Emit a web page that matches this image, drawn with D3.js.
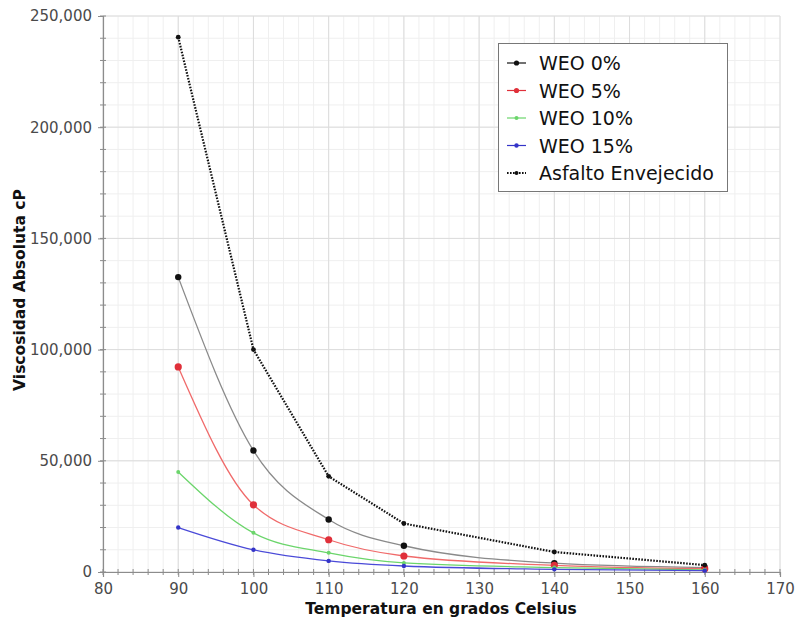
<!DOCTYPE html>
<html>
<head>
<meta charset="utf-8">
<script src="https://cdn.jsdelivr.net/npm/d3@7/dist/d3.min.js"></script>
<style>
  html, body { margin: 0; padding: 0; background: #fff; }
  svg { display: block; }
</style>
</head>
<body>
<svg id="chart" width="795" height="624"></svg>
<script>
// Temperatures (°C) at which viscosity was measured
const temperatures = [90, 100, 110, 120, 140, 160];

// Absolute viscosity (cP) per blend
const weo0  = [132600, 54600, 23600, 11800, 4000, 2000];
const weo5  = [92200, 30200, 14500, 7200, 3000, 1500];
const weo10 = [45000, 17600, 8600, 4100, 2000, 1000];
const weo15 = [20000, 10000, 5000, 2700, 1200, 600];
const aged  = [240500, 100000, 43000, 21800, 9000, 3100];

const seriesNames = ["WEO 0%", "WEO 5%", "WEO 10%", "WEO 15%", "Asfalto Envejecido"];

const xTicks = [80, 90, 100, 110, 120, 130, 140, 150, 160, 170];
const yTicks = [0, 50000, 100000, 150000, 200000, 250000];

const series = [
  { name: seriesNames[0], values: weo0,  line: "#8a8a8a", marker: "#111", r: 3.2, dotted: false },
  { name: seriesNames[1], values: weo5,  line: "#f06a6a", marker: "#e0303a", r: 3.6, dotted: false },
  { name: seriesNames[2], values: weo10, line: "#6bd56b", marker: "#6bd56b", r: 2.0, dotted: false },
  { name: seriesNames[3], values: weo15, line: "#4a4ad8", marker: "#3434c8", r: 2.2, dotted: false },
  { name: seriesNames[4], values: aged,  line: "#111",    marker: "#111", r: 2.4, dotted: true }
];

const svg = d3.select("#chart");
const plotL = 103, plotR = 780, plotT = 16, plotB = 572;

const x = d3.scaleLinear().domain([80, 170]).range([plotL, plotR]);
const y = d3.scaleLinear().domain([0, 250000]).range([plotB, plotT]);

const fontFam = "Tahoma, 'DejaVu Sans', Verdana, sans-serif";

// grid: minor then major
const grid = svg.append("g");
const xMinor = d3.range(80, 170.01, 2);
const yMinor = d3.range(0, 250001, 10000);
grid.selectAll(".vx").data(xMinor).join("line")
  .attr("x1", d => x(d)).attr("x2", d => x(d))
  .attr("y1", plotT).attr("y2", plotB)
  .attr("stroke", "#efefef").attr("stroke-width", 1);
grid.selectAll(".hy").data(yMinor).join("line")
  .attr("x1", plotL).attr("x2", plotR)
  .attr("y1", d => y(d)).attr("y2", d => y(d))
  .attr("stroke", "#efefef").attr("stroke-width", 1);
grid.selectAll(".vX").data(xTicks).join("line")
  .attr("x1", d => x(d)).attr("x2", d => x(d))
  .attr("y1", plotT).attr("y2", plotB)
  .attr("stroke", "#dcdcdc").attr("stroke-width", 1);
grid.selectAll(".hY").data(yTicks).join("line")
  .attr("x1", plotL).attr("x2", plotR)
  .attr("y1", d => y(d)).attr("y2", d => y(d))
  .attr("stroke", "#dcdcdc").attr("stroke-width", 1);

// axes
const fmt = d => d3.format(",")(d);
const xAxis = svg.append("g").attr("transform", `translate(0,${plotB})`)
  .call(d3.axisBottom(x).tickValues(xTicks).tickSize(5).tickPadding(6));
const yAxis = svg.append("g").attr("transform", `translate(${plotL},0)`)
  .call(d3.axisLeft(y).tickValues(yTicks).tickFormat(fmt).tickSize(5).tickPadding(6));
[xAxis, yAxis].forEach(g => {
  g.select(".domain").attr("stroke", "#8c8c8c").attr("stroke-width", 1.2);
  g.selectAll(".tick line").attr("stroke", "#8c8c8c");
  g.selectAll(".tick text").attr("fill", "#4a4a4a")
    .style("font-family", fontFam).style("font-size", "15px");
});
// minor ticks
svg.append("g").selectAll("line").data(xMinor).join("line")
  .attr("x1", d => x(d)).attr("x2", d => x(d))
  .attr("y1", plotB - 3).attr("y2", plotB + 3)
  .attr("stroke", "#8c8c8c");
svg.append("g").selectAll("line").data(yMinor).join("line")
  .attr("x1", plotL - 3).attr("x2", plotL + 3)
  .attr("y1", d => y(d)).attr("y2", d => y(d))
  .attr("stroke", "#8c8c8c");

// axis titles
svg.append("text")
  .attr("x", 441).attr("y", 614)
  .attr("text-anchor", "middle")
  .style("font-family", fontFam).style("font-weight", "bold").style("font-size", "15.5px")
  .attr("fill", "#111")
  .text("Temperatura en grados Celsius");
svg.append("text")
  .attr("transform", `translate(25,290) rotate(-90)`)
  .attr("text-anchor", "middle")
  .style("font-family", fontFam).style("font-weight", "bold").style("font-size", "15.5px")
  .attr("fill", "#111")
  .text("Viscosidad Absoluta cP");

// series
const plot = svg.append("g");
series.forEach(s => {
  const pts = temperatures.map((t, i) => [t, s.values[i]]);
  const line = d3.line()
    .x(d => x(d[0])).y(d => y(d[1]))
    .curve(s.dotted ? d3.curveLinear : d3.curveMonotoneX);
  plot.append("path").datum(pts)
    .attr("d", line)
    .attr("fill", "none")
    .attr("stroke", s.line)
    .attr("stroke-width", s.dotted ? 2.2 : 1.3)
    .attr("stroke-dasharray", s.dotted ? "1.6,1.4" : null);
  plot.selectAll(null).data(pts).join("circle")
    .attr("cx", d => x(d[0])).attr("cy", d => y(d[1]))
    .attr("r", s.r).attr("fill", s.marker);
});

// legend
const lg = svg.append("g");
lg.append("rect").attr("x", 498.5).attr("y", 43.5).attr("width", 229).attr("height", 148)
  .attr("fill", "#fff").attr("stroke", "#777").attr("stroke-width", 1);
series.forEach((s, i) => {
  const cy = 63 + i * 27.5;
  lg.append("line").attr("x1", 507).attr("x2", 526).attr("y1", cy).attr("y2", cy)
    .attr("stroke", s.dotted ? "#111" : s.marker)
    .attr("stroke-width", s.dotted ? 2.2 : 1.2)
    .attr("stroke-dasharray", s.dotted ? "1.6,1.4" : null);
  lg.append("circle").attr("cx", 516.5).attr("cy", cy).attr("r", s.dotted ? 2 : Math.min(s.r, 2.6))
    .attr("fill", s.marker);
  lg.append("text").attr("x", 539).attr("y", cy + 7)
    .style("font-family", fontFam).style("font-size", "19px")
    .attr("fill", "#111").text(s.name);
});
</script>
</body>
</html>
